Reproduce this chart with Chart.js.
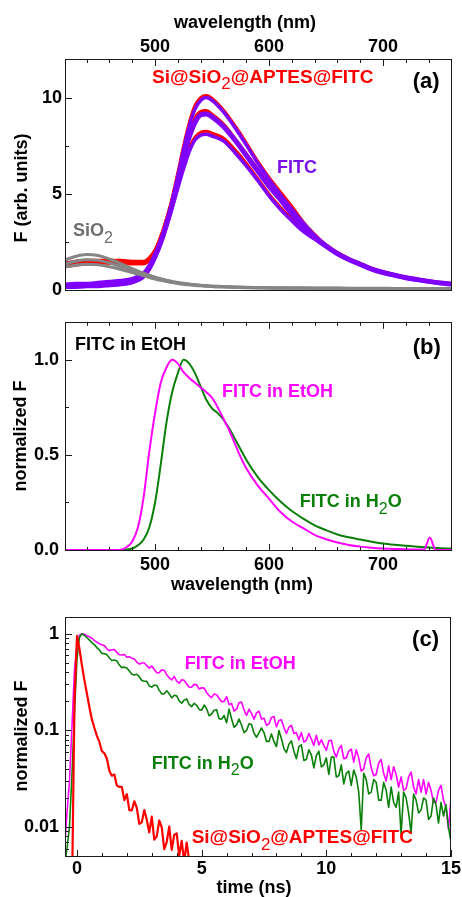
<!DOCTYPE html>
<html>
<head>
<meta charset="utf-8">
<script src="https://cdn.jsdelivr.net/npm/chart.js@4.4.0/dist/chart.umd.min.js"></script>
<style>
  html, body { margin: 0; padding: 0; background: #fff; }
  #wrap { position: relative; width: 462px; height: 897px; overflow: hidden; }
  canvas { position: absolute; left: 0; }
</style>
</head>
<body>
<div id="wrap">
  <canvas id="panelA" width="462" height="305" style="top:0px"></canvas>
  <canvas id="panelB" width="462" height="295" style="top:305px"></canvas>
  <canvas id="panelC" width="462" height="297" style="top:600px"></canvas>
</div>
<script>
// ---- panel (a): emission spectra, three measurements per sample
const wavelengthA = [420,430,440,450,460,470,480,490,495,500,505,510,515,520,525,530,535,540,545,550,560,570,580,590,600,610,620,630,640,650,660,670,680,690,700,710,720,730,740,750,760];
const siHigh = [1.4,1.5,1.55,1.55,1.55,1.55,1.5,1.5, 1.7,2.1,2.8,3.7,4.8,6.1,7.5,8.7,9.6,10.0,10.1,9.95, 9.35,8.55,7.65,6.7,5.85,5.1,4.35,3.55,2.9,2.35,1.94,1.63,1.38,1.13,0.95,0.8,0.67,0.57,0.48,0.4,0.34];
const siMid = [1.3,1.4,1.45,1.5,1.48,1.45,1.4,1.4, 1.6,2.0,2.7,3.6,4.6,5.9,7.1,8.1,8.9,9.25,9.3,9.1, 8.6,7.85,7.05,6.25,5.45,4.75,4.0,3.35,2.8,2.33,1.93,1.62,1.37,1.12,0.94,0.79,0.66,0.56,0.47,0.39,0.33];
const siLow = [1.2,1.3,1.35,1.4,1.4,1.4,1.38,1.38, 1.55,1.95,2.6,3.45,4.4,5.5,6.5,7.4,7.95,8.2,8.25,8.15, 7.9,7.3,6.6,5.8,5.0,4.3,3.7,3.15,2.7,2.28,1.9,1.6,1.35,1.1,0.92,0.78,0.65,0.55,0.46,0.38,0.32];
const fitcHigh = [0.3,0.35,0.35,0.4,0.45,0.5,0.6,0.9, 1.3,1.9,2.6,3.5,4.6,5.9,7.3,8.5,9.4,9.85,10.0,9.85, 9.25,8.45,7.55,6.6,5.75,4.95,4.2,3.5,2.85,2.3,1.9,1.6,1.35,1.1,0.92,0.78,0.65,0.55,0.46,0.38,0.32];
const fitcMid = [0.2,0.22,0.25,0.3,0.3,0.35,0.45,0.75, 1.15,1.75,2.5,3.4,4.45,5.7,6.9,7.95,8.7,9.1,9.15,9.0, 8.5,7.8,7.0,6.2,5.4,4.7,3.95,3.3,2.75,2.3,1.9,1.6,1.35,1.1,0.92,0.78,0.65,0.55,0.46,0.38,0.32];
const fitcLow = [0.15,0.15,0.2,0.2,0.25,0.3,0.4,0.7, 1.1,1.7,2.4,3.3,4.25,5.3,6.3,7.2,7.8,8.05,8.1,8.0, 7.75,7.15,6.45,5.7,4.9,4.2,3.6,3.05,2.65,2.25,1.87,1.57,1.32,1.08,0.9,0.76,0.63,0.53,0.44,0.37,0.31];
const sio2High = [1.55,1.75,1.85,1.8,1.62,1.38,1.12,0.88, 0.78,0.68,0.6,0.52,0.46,0.4,0.36,0.32,0.29,0.26,0.24,0.22, 0.19,0.17,0.15,0.14,0.13,0.125,0.12,0.12,0.115,0.11,0.11,0.105,0.1,0.1,0.1,0.095,0.095,0.09,0.09,0.09,0.09];
const sio2Mid = [1.35,1.5,1.58,1.55,1.42,1.22,1.0,0.8, 0.7,0.62,0.55,0.48,0.42,0.37,0.33,0.3,0.27,0.24,0.22,0.2, 0.18,0.16,0.14,0.13,0.12,0.115,0.11,0.11,0.105,0.1,0.1,0.095,0.09,0.09,0.09,0.085,0.085,0.08,0.08,0.08,0.08];
const sio2Low = [1.2,1.3,1.35,1.32,1.22,1.08,0.92,0.75, 0.66,0.58,0.51,0.45,0.4,0.35,0.31,0.28,0.25,0.23,0.21,0.19, 0.17,0.15,0.13,0.12,0.11,0.105,0.1,0.1,0.095,0.09,0.09,0.085,0.08,0.08,0.08,0.075,0.075,0.07,0.07,0.07,0.07];

// ---- panel (b): normalized spectra of free FITC
const wavelengthB = [420,440,460,470,475,480,485,490,495,500,505,510,515,520,525,530,535,540,545,550,555,560,565,570,575,580,590,600,610,620,630,640,650,660,670,680,690,700,710,720,730,736,741,746,750,760];
const etohSpectrum = [0,0,0, 0.002,0.015,0.045,0.12,0.28,0.52,0.72,0.88,0.96,1.0,0.98,0.935,0.905,0.88,0.855,0.83,0.8,0.75,0.69,0.63,0.56,0.49,0.43, 0.34,0.27,0.2,0.15,0.115,0.08,0.057,0.04,0.027,0.018,0.012,0.008,0.006,0.004,0.003, 0.003,0.066,0.002,0,0];
const waterSpectrum = [0,0,0, 0,0.002,0.008,0.025,0.055,0.12,0.25,0.45,0.67,0.83,0.93,1.0,0.98,0.93,0.86,0.79,0.745,0.72,0.685,0.64,0.585,0.53,0.475, 0.385,0.315,0.255,0.205,0.165,0.13,0.105,0.082,0.067,0.055,0.044,0.035,0.028,0.022,0.017, 0.015,0.013,0.011,0.01,0.008];

// ---- panel (c): fluorescence decays
const timeNs = [-0.5,-0.4,-0.3,-0.2,-0.1,0,0.1,0.2,0.3,0.4,
  0.5,0.6,0.7,0.8,0.9,
  1.0,1.1,1.2,1.3,1.4,1.5,1.6,1.7,1.8,1.9,
  2.0,2.1,2.2,2.3,2.4,2.5,2.6,2.7,2.8,2.9,
  3.0,3.1,3.2,3.3,3.4,3.5,3.6,3.7,3.8,3.9,
  4.0,4.1,4.2,4.3,4.4,4.5,4.6,4.7,4.8,4.9,
  5.0,5.1,5.2,5.3,5.4,5.5,5.6,5.7,5.8,5.9,
  6.0,6.1,6.2,6.3,6.4,6.5,6.6,6.7,6.8,6.9,
  7.0,7.1,7.2,7.3,7.4,7.5,7.6,7.7,7.8,7.9,
  8.0,8.1,8.2,8.3,8.4,8.5,8.6,8.7,8.8,8.9,
  9.0,9.1,9.2,9.3,9.4,9.5,9.6,9.7,9.8,9.9,
  10.0,10.1,10.2,10.3,10.4,10.5,10.6,10.7,10.8,10.9,
  11.0,11.1,11.2,11.3,11.4,11.5,11.6,11.7,11.8,11.9,
  12.0,12.1,12.2,12.3,12.4,12.5,12.6,12.7,12.8,12.9,
  13.0,13.1,13.2,13.3,13.4,13.5,13.6,13.7,13.8,13.9,
  14.0,14.1,14.2,14.3,14.4,14.5,14.6,14.7,14.8,14.9,
  15.0];
const etohDecay = [0.006,0.014,0.03,0.11,0.42,0.78,0.97,1.0,0.99,0.95,
  0.93,0.90,0.85,0.82,0.79,
  0.768,0.755,0.700,0.668,0.685,0.686,0.642,0.607,0.603,0.611,
  0.572,0.580,0.559,0.550,0.510,0.486,0.498,0.499,0.468,0.441,
  0.465,0.427,0.395,0.397,0.423,0.419,0.378,0.350,0.333,0.363,
  0.323,0.308,0.335,0.330,0.303,0.280,0.281,0.300,0.297,0.268,
  0.277,0.274,0.247,0.229,0.219,0.238,0.234,0.215,0.198,0.200,
  0.224,0.185,0.190,0.159,0.166,0.193,0.197,0.163,0.143,0.166,
  0.150,0.131,0.152,0.158,0.131,0.134,0.113,0.117,0.136,0.139,
  0.109,0.127,0.129,0.107,0.093,0.108,0.113,0.093,0.095,0.080,
  0.095,0.076,0.079,0.093,0.081,0.070,0.089,0.071,0.080,0.070,
  0.062,0.078,0.079,0.061,0.053,0.064,0.070,0.051,0.052,0.061,
  0.064,0.047,0.063,0.052,0.038,0.040,0.052,0.057,0.041,0.034,
  0.035,0.046,0.050,0.036,0.030,0.043,0.031,0.042,0.035,0.026,
  0.033,0.024,0.025,0.033,0.037,0.026,0.022,0.031,0.023,0.031,
  0.022,0.029,0.024,0.018,0.018,0.024,0.027,0.019,0.016,0.0095,
  0.02];
const waterDecay = [0.004,0.006,0.01,0.035,0.15,0.55,0.92,1.0,0.96,0.91,
  0.86,0.81,0.77,0.72,0.68,
  0.627,0.621,0.609,0.562,0.530,0.536,0.524,0.475,0.447,0.452,
  0.443,0.413,0.381,0.374,0.382,0.360,0.329,0.323,0.322,0.289,
  0.281,0.295,0.292,0.260,0.239,0.240,0.257,0.240,0.217,0.231,
  0.228,0.202,0.191,0.206,0.212,0.185,0.176,0.191,0.182,0.165,
  0.162,0.183,0.168,0.142,0.148,0.162,0.164,0.132,0.131,0.143,
  0.120,0.166,0.132,0.108,0.114,0.131,0.114,0.095,0.100,0.117,
  0.115,0.094,0.085,0.095,0.106,0.095,0.077,0.077,0.092,0.077,
  0.068,0.100,0.082,0.065,0.059,0.072,0.078,0.061,0.051,0.068,
  0.071,0.049,0.050,0.063,0.056,0.041,0.055,0.061,0.042,0.044,
  0.052,0.035,0.053,0.053,0.033,0.034,0.044,0.028,0.036,0.038,
  0.027,0.039,0.033,0.023,0.0094,0.036,0.031,0.022,0.023,0.031,
  0.029,0.019,0.019,0.029,0.024,0.016,0.026,0.018,0.016,0.023,
  0.0084,0.023,0.020,0.014,0.0087,0.022,0.019,0.014,0.015,0.020,
  0.019,0.012,0.013,0.020,0.017,0.011,0.018,0.013,0.017,0.010,
  0.007];
// Si@SiO2@APTES@FITC decay, visible until it drops below the axis (~4.5 ns)
const siDecay = [null,null,null,0.002,0.2,0.95,0.7,0.47,0.33,0.24,
  0.173,0.13,0.106,0.088,0.076,
  0.061,0.058,0.051,0.038,0.034,0.035,0.027,0.026,0.026,0.019,
  0.0219,0.015,0.0149,0.0185,0.0158,0.0108,0.0112,0.015,0.0119,0.0088,
  0.0128,0.0074,0.008,0.0117,0.0099,0.0059,0.007,0.0101,0.0058,0.0083,
  0.0086,0.005,0.0072,0.0044,0.0069,0.0045];

// tick values
const wlMajor = [500, 600, 700];
const wlMinor = [440, 460, 480, 520, 540, 560, 580, 620, 640, 660, 680, 720, 740];
const yMajorA = [0, 5, 10];
const yMinorA = [2.5, 7.5];
const yMajorB = [0, 0.5, 1];
const yMinorB = [0.25, 0.75];
const tMajor = [0, 5, 10, 15];
const tMinor = [1, 2, 3, 4, 6, 7, 8, 9, 11, 12, 13, 14];
const logMajor = [0.01, 0.1, 1];
const logMinor = [0.006, 0.007, 0.008, 0.009, 0.02, 0.03, 0.04, 0.05, 0.06, 0.07, 0.08, 0.09, 0.2, 0.3, 0.4, 0.5, 0.6, 0.7, 0.8, 0.9];

const FAMILY = "'Liberation Sans', Arial, Helvetica, sans-serif";
Chart.defaults.font.family = FAMILY;
Chart.defaults.color = '#000';

const RED = '#ff0000', VIOLET = '#8000ff', GRAY = '#858585', MAGENTA = '#ff00ff', GREEN = '#0a800a';

const xy = (xs, ys) => ys.map((v, i) => ({ x: xs[i], y: v }));

// frame around the plot area plus inward ticks
function frameTicks(marks) {
  return {
    id: 'frameTicks',
    afterDatasetsDraw(chart) {
      const { ctx, chartArea: a } = chart;
      ctx.save();
      ctx.strokeStyle = '#1a1a1a';
      ctx.lineWidth = 1;
      ctx.beginPath();
      for (const m of marks) {
        const s = chart.scales[m.scale];
        for (const v of m.values) {
          const p = Math.round(s.getPixelForValue(v)) + 0.5;
          if (m.edge === 'top') { ctx.moveTo(p, a.top); ctx.lineTo(p, a.top + m.len); }
          else if (m.edge === 'bottom') { ctx.moveTo(p, a.bottom); ctx.lineTo(p, a.bottom - m.len); }
          else { ctx.moveTo(a.left, p); ctx.lineTo(a.left + m.len, p); }
        }
      }
      ctx.stroke();
      ctx.strokeRect(Math.round(a.left) + 0.5, Math.round(a.top) + 0.5,
        Math.round(a.right - a.left) - 1, Math.round(a.bottom - a.top) - 1);
      ctx.restore();
    }
  };
}

// annotations in data coords, axis titles in canvas pixels
function textLabels(items) {
  const fontFor = (p, size) => p.sub ? `${Math.round(size * 0.9)}px ${FAMILY}` : `bold ${size}px ${FAMILY}`;
  return {
    id: 'textLabels',
    afterDraw(chart) {
      const { ctx } = chart;
      ctx.save();
      ctx.textBaseline = 'middle';
      ctx.textAlign = 'left';
      for (const l of items) {
        const size = l.size || 18;
        let x, y;
        if (l.at) {
          x = chart.scales.x.getPixelForValue(l.at[0]);
          y = chart.scales.y.getPixelForValue(l.at[1]);
        } else {
          x = l.px[0];
          y = l.px[1];
        }
        const parts = typeof l.text === 'string' ? [{ t: l.text }] : l.text;
        let w = 0;
        for (const p of parts) { ctx.font = fontFor(p, size); w += ctx.measureText(p.t).width; }
        ctx.save();
        ctx.translate(x, y);
        if (l.rotate) ctx.rotate(-Math.PI / 2);
        let cx = l.center ? -w / 2 : 0;
        ctx.fillStyle = l.color || '#000';
        for (const p of parts) {
          ctx.font = fontFor(p, size);
          ctx.fillText(p.t, cx, p.sub ? size * 0.38 : 0);
          cx += ctx.measureText(p.t).width;
        }
        ctx.restore();
      }
      ctx.restore();
    }
  };
}

const SI_LABEL = [{ t: 'Si@SiO' }, { t: '2', sub: true }, { t: '@APTES@FITC' }];
const H2O_LABEL = [{ t: 'FITC in H' }, { t: '2', sub: true }, { t: 'O' }];
const SIO2_LABEL = [{ t: 'SiO' }, { t: '2', sub: true }];

function axis(extra, fit, ticks, pad, fmt) {
  return Object.assign({
    grid: { display: false, drawTicks: false },
    border: { display: false },
    afterFit: fit,
    afterBuildTicks: s => { s.ticks = ticks.map(v => ({ value: v })); },
    ticks: {
      autoSkip: false, maxRotation: 0, padding: pad, color: '#000',
      font: { size: 18, weight: 'bold' },
      callback: fmt || (v => String(v))
    }
  }, extra);
}

function line(data, color, width, order, smooth) {
  return {
    data, borderColor: color, borderWidth: width, pointRadius: 0, order,
    fill: false, tension: 0, cubicInterpolationMode: smooth ? 'monotone' : 'default',
    spanGaps: false, borderJoinStyle: 'round'
  };
}

function panel(id, padding, scales, datasets, marks, items) {
  return new Chart(document.getElementById(id), {
    type: 'line',
    data: { datasets },
    options: {
      responsive: false, animation: false, events: [],
      layout: { padding },
      plugins: { legend: { display: false }, tooltip: { enabled: false } },
      scales
    },
    plugins: [frameTicks(marks), textLabels(items)]
  });
}

// ---- panel (a)
panel('panelA',
  { left: 0, right: 10, top: 0, bottom: 5 },
  {
    x: axis({ type: 'linear', position: 'top', min: 421, max: 760.5 }, s => { s.height = 59; }, wlMajor, 1),
    y: axis({ type: 'linear', min: -0.05, max: 12 }, s => { s.width = 65; }, yMajorA, 3)
  },
  [
    line(xy(wavelengthA, sio2High), GRAY, 3, 1, true),
    line(xy(wavelengthA, sio2Mid), GRAY, 3, 1, true),
    line(xy(wavelengthA, sio2Low), GRAY, 3, 1, true),
    line(xy(wavelengthA, fitcHigh), VIOLET, 3.5, 2, true),
    line(xy(wavelengthA, fitcMid), VIOLET, 5, 2, true),
    line(xy(wavelengthA, fitcLow), VIOLET, 3.5, 2, true),
    line(xy(wavelengthA, siHigh), RED, 3, 3, true),
    line(xy(wavelengthA, siMid), RED, 4, 3, true),
    line(xy(wavelengthA, siLow), RED, 3, 3, true)
  ],
  [
    { scale: 'x', values: wlMajor, edge: 'top', len: 7 },
    { scale: 'x', values: wlMinor, edge: 'top', len: 4 },
    { scale: 'y', values: yMajorA, edge: 'left', len: 7 },
    { scale: 'y', values: yMinorA, edge: 'left', len: 4 }
  ],
  [
    { text: SI_LABEL, color: RED, at: [497.4, 11.05], size: 19 },
    { text: '(a)', at: [726, 10.8], size: 22 },
    { text: 'FITC', color: '#7a10e8', at: [607, 6.35] },
    { text: SIO2_LABEL, color: '#6e6e6e', at: [428, 3.05] },
    { text: 'wavelength (nm)', px: [245, 23], center: true },
    { text: 'F (arb. units)', px: [22, 188], center: true, rotate: true }
  ]
);

// ---- panel (b)
panel('panelB',
  { left: 0, right: 10, top: 4, bottom: 0 },
  {
    x: axis({ type: 'linear', position: 'bottom', min: 421, max: 760.5 }, s => { s.height = 49; }, wlMajor, 3),
    y: axis({ type: 'linear', min: -0.005, max: 1.2 }, s => { s.width = 65; }, yMajorB, 6, v => v.toFixed(1))
  },
  [
    line(xy(wavelengthB, etohSpectrum), MAGENTA, 2, 1, true),
    line(xy(wavelengthB, waterSpectrum), GREEN, 2, 2, true)
  ],
  [
    { scale: 'x', values: wlMajor, edge: 'top', len: 7 },
    { scale: 'x', values: wlMinor, edge: 'top', len: 4 },
    { scale: 'x', values: wlMajor, edge: 'bottom', len: 7 },
    { scale: 'x', values: wlMinor, edge: 'bottom', len: 4 },
    { scale: 'y', values: yMajorB, edge: 'left', len: 7 },
    { scale: 'y', values: yMinorB, edge: 'left', len: 4 }
  ],
  [
    { text: 'FITC in EtOH', at: [429.8, 1.08] },
    { text: '(b)', at: [726, 1.06], size: 22 },
    { text: 'FITC in EtOH', color: MAGENTA, at: [558.8, 0.83] },
    { text: H2O_LABEL, color: GREEN, at: [627, 0.25] },
    { text: 'normalized F', px: [21, 131], center: true, rotate: true },
    { text: 'wavelength (nm)', px: [242, 280], center: true }
  ]
);

// ---- panel (c)
panel('panelC',
  { left: 0, right: 10, top: 15, bottom: 0 },
  {
    x: axis({ type: 'linear', position: 'bottom', min: -0.48, max: 15 }, s => { s.height = 40; }, tMajor, 1),
    y: axis({ type: 'logarithmic', min: 0.0049, max: 1.5 }, s => { s.width = 65; }, logMajor, 6)
  },
  [
    line(xy(timeNs, siDecay), RED, 2.2, 1, false),
    line(xy(timeNs, waterDecay), GREEN, 1.6, 2, false),
    line(xy(timeNs, etohDecay), MAGENTA, 1.6, 3, false)
  ],
  [
    { scale: 'x', values: tMajor, edge: 'bottom', len: 7 },
    { scale: 'x', values: tMinor, edge: 'bottom', len: 4 },
    { scale: 'y', values: logMajor, edge: 'left', len: 7 },
    { scale: 'y', values: logMinor, edge: 'left', len: 4 }
  ],
  [
    { text: '(c)', at: [13.44, 0.87], size: 22 },
    { text: 'FITC in EtOH', color: MAGENTA, at: [4.32, 0.49] },
    { text: H2O_LABEL, color: GREEN, at: [3.0, 0.045] },
    { text: SI_LABEL, color: RED, at: [4.6, 0.0077], size: 19 },
    { text: 'normalized F', px: [22, 136], center: true, rotate: true },
    { text: 'time (ns)', px: [254, 288], center: true }
  ]
);
</script>
</body>
</html>
